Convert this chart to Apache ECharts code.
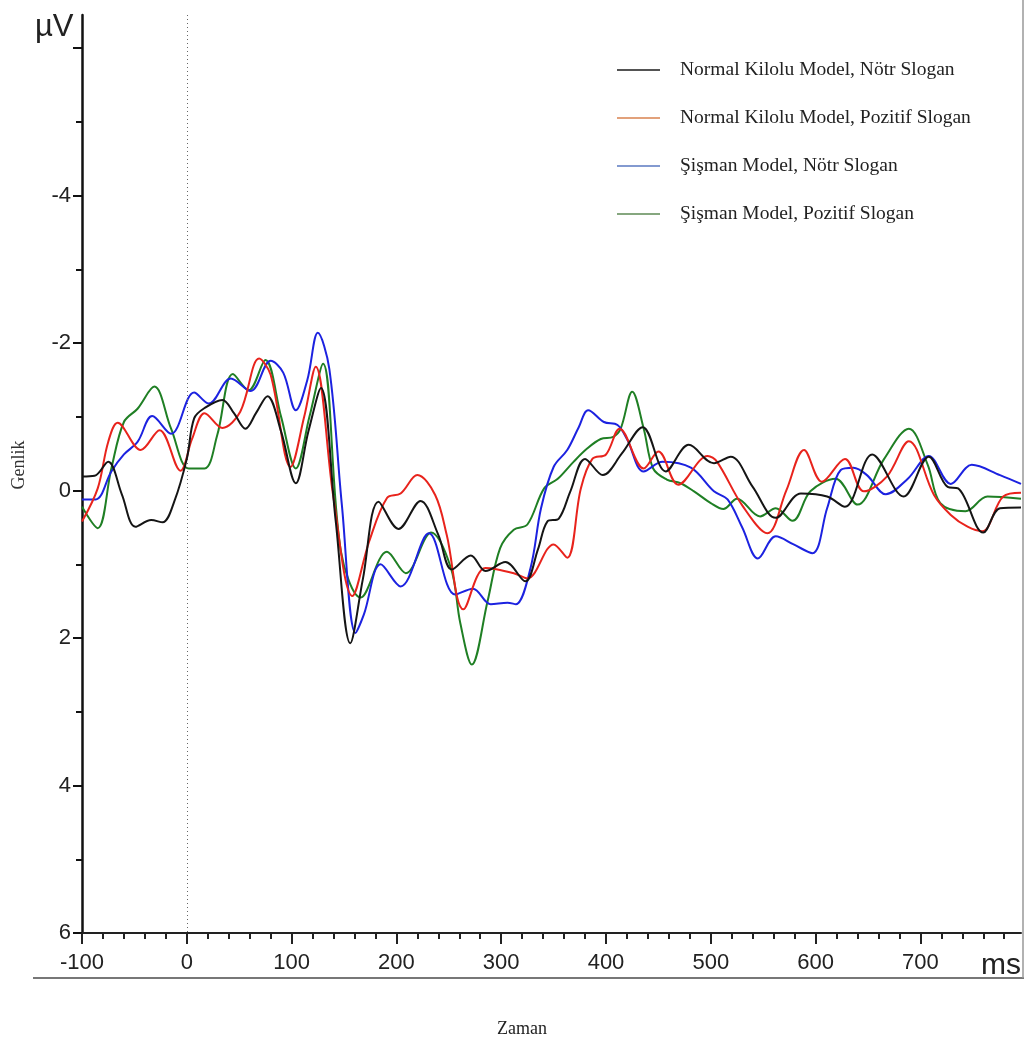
<!DOCTYPE html>
<html>
<head>
<meta charset="utf-8">
<script src="https://cdn.jsdelivr.net/npm/echarts@6/dist/echarts.min.js"></script>
<style>
  html, body { margin: 0; padding: 0; background: #fff; }
  #chart { width: 1026px; height: 1044px; }
</style>
</head>
<body>
<div id="chart"></div>
<script>
// series names (legend)
const seriesNames = [
  "Normal Kilolu Model, Nötr Slogan",
  "Normal Kilolu Model, Pozitif Slogan",
  "Şişman Model, Nötr Slogan",
  "Şişman Model, Pozitif Slogan"
];
const lineColors = ["#151515", "#e8231c", "#1c22e0", "#1f7f24"];
const legendColors = ["#1a1a1a", "#d9824f", "#5a78c0", "#5e8a55"];

// [time ms, amplitude µV]
const blackPts = [[-100,-0.19],[-88,-0.2],[-75,-0.39],[-62,0.05],[-49,0.49],[-34,0.40],[-23,0.43],[-12,0.15],[0,-0.43],[7,-0.98],[17,-1.12],[34,-1.23],[45,-1.05],[56,-0.84],[66,-1.05],[77,-1.28],[90,-0.8],[104,-0.10],[116,-0.8],[128,-1.39],[142,0.4],[156,2.07],[168,1.2],[183,0.15],[202,0.52],[223,0.14],[240,0.6],[253,1.07],[271,0.88],[285,1.09],[304,0.97],[323,1.23],[335,0.8],[344,0.42],[355,0.38],[366,0.01],[380,-0.43],[397,-0.21],[415,-0.5],[435,-0.86],[457,-0.26],[479,-0.62],[503,-0.37],[519,-0.46],[540,-0.05],[562,0.37],[586,0.04],[611,0.08],[628,0.22],[654,-0.49],[684,0.08],[708,-0.46],[726,-0.05],[736,-0.03],[760,0.57],[776,0.24],[796,0.23]];
const redPts = [[-100,0.42],[-85,-0.03],[-75,-0.66],[-66,-0.92],[-44,-0.55],[-26,-0.82],[-6,-0.27],[5,-0.7],[17,-1.05],[34,-0.85],[51,-1.07],[69,-1.79],[80,-1.57],[99,-0.32],[112,-1.0],[123,-1.68],[140,0.1],[158,1.43],[174,0.69],[191,0.1],[204,0.04],[220,-0.21],[237,0.06],[248,0.6],[264,1.61],[285,1.05],[312,1.12],[325,1.19],[350,0.73],[363,0.91],[376,-0.03],[387,-0.43],[400,-0.49],[413,-0.84],[436,-0.3],[450,-0.53],[469,-0.08],[497,-0.47],[506,-0.39],[530,0.2],[554,0.58],[572,0.0],[589,-0.55],[606,-0.12],[628,-0.43],[646,0.01],[668,-0.19],[689,-0.67],[713,0.06],[729,0.33],[745,0.49],[759,0.55],[779,0.08],[796,0.03]];
const bluePts = [[-100,0.12],[-87,0.12],[-72,-0.26],[-60,-0.49],[-47,-0.66],[-33,-1.01],[-15,-0.77],[7,-1.33],[21,-1.18],[42,-1.52],[61,-1.35],[80,-1.76],[92,-1.6],[104,-1.09],[115,-1.5],[125,-2.14],[136,-1.65],[148,0.2],[161,1.93],[169,1.68],[185,1.0],[204,1.3],[231,0.58],[256,1.41],[273,1.33],[290,1.54],[306,1.52],[314,1.54],[328,1.05],[338,0.24],[350,-0.32],[363,-0.55],[374,-0.86],[383,-1.09],[398,-0.93],[411,-0.89],[420,-0.7],[436,-0.26],[454,-0.39],[481,-0.31],[503,0.01],[516,0.12],[530,0.5],[545,0.92],[562,0.62],[579,0.73],[597,0.85],[611,0.24],[624,-0.28],[636,-0.31],[649,-0.21],[667,0.05],[688,-0.16],[708,-0.47],[729,-0.09],[749,-0.35],[776,-0.21],[796,-0.09]];
const greenPts = [[-100,0.22],[-85,0.51],[-72,-0.3],[-60,-0.93],[-47,-1.11],[-31,-1.41],[-15,-0.84],[2,-0.3],[17,-0.3],[29,-0.75],[44,-1.58],[59,-1.36],[75,-1.77],[90,-1.0],[104,-0.3],[117,-1.0],[130,-1.72],[147,0.82],[166,1.45],[191,0.83],[209,1.12],[233,0.57],[252,1.05],[261,1.8],[272,2.36],[287,1.5],[299,0.78],[312,0.53],[325,0.46],[341,-0.03],[354,-0.16],[369,-0.39],[382,-0.57],[395,-0.7],[407,-0.73],[414,-0.84],[425,-1.34],[436,-0.84],[445,-0.3],[458,-0.15],[471,-0.1],[484,0.01],[500,0.17],[512,0.25],[525,0.11],[547,0.35],[562,0.24],[578,0.41],[595,0.01],[619,-0.16],[640,0.19],[665,-0.42],[689,-0.84],[707,-0.35],[719,0.17],[743,0.28],[764,0.08],[796,0.11]];

// axis ticks
const xMajor = [-100, 0, 100, 200, 300, 400, 500, 600, 700];
const xMinor = [-80,-60,-40,-20,20,40,60,80,120,140,160,180,220,240,260,280,320,340,360,380,420,440,460,480,520,540,560,580,620,640,660,680,720,740,760,780];
const yMajor = [-6, -4, -2, 0, 2, 4, 6];
const yLabels = [-4, -2, 0, 2, 4, 6];
const yMinor = [-5, -3, -1, 1, 3, 5];

const sans = '"Liberation Sans", Arial, sans-serif';
const serif = '"Liberation Serif", "Times New Roman", serif';

let myChart = echarts.init(document.getElementById("chart"));
const allPts = [blackPts, redPts, bluePts, greenPts];
var seriesData = [];
for (let i = 0; i < allPts.length; i++) {
  seriesData.push({
    name: seriesNames[i],
    type: "line",
    data: allPts[i],
    smooth: 0.35,
    showSymbol: false,
    xAxisIndex: 0,
    yAxisIndex: 0,
    lineStyle: { color: lineColors[i], width: 2 },
    itemStyle: { color: lineColors[i] },
    z: 3 + (3 - i)
  });
}
// dotted stimulus line at 0 ms
seriesData[0].markLine = {
  silent: true,
  symbol: "none",
  label: { show: false },
  lineStyle: { color: "#666", type: [1, 3], width: 1 },
  data: [{ xAxis: 0 }]
};

const options = {
  animation: false,
  backgroundColor: "#fff",
  grid: { left: 82, right: 5, top: 15, bottom: 111 },
  legend: {
    orient: "vertical",
    left: 612,
    top: 55,
    itemWidth: 43,
    itemHeight: 1.5,
    itemGap: 28,
    icon: "rect",
    textStyle: { fontFamily: serif, fontSize: 19.5, color: "#222", padding: [0, 0, 0, 15] },
    data: seriesNames.map((n, i) => ({ name: n, itemStyle: { color: legendColors[i] } }))
  },
  xAxis: [
    {
      type: "value",
      min: -100,
      max: 796,
      position: "bottom",
      axisLine: { onZero: false, lineStyle: { color: "#222", width: 2 } },
      axisTick: { customValues: xMajor, length: 11, lineStyle: { color: "#222", width: 2 } },
      axisLabel: { customValues: xMajor, fontFamily: sans, fontSize: 22, color: "#222", margin: 19 },
      splitLine: { show: false }
    },
    {
      type: "value",
      min: -100,
      max: 796,
      position: "bottom",
      offset: 0,
      axisLine: { show: false, onZero: false },
      axisTick: { customValues: xMinor, length: 6, lineStyle: { color: "#222", width: 2 } },
      axisLabel: { show: false },
      splitLine: { show: false }
    }
  ],
  yAxis: [
    {
      type: "value",
      inverse: true,
      min: -6.45,
      max: 6,
      position: "left",
      axisLine: { onZero: false, lineStyle: { color: "#111", width: 2.5 } },
      axisTick: { customValues: yMajor, length: 9, lineStyle: { color: "#111", width: 2 } },
      axisLabel: { customValues: yLabels, fontFamily: sans, fontSize: 22, color: "#222", margin: 11 },
      splitLine: { show: false }
    },
    {
      type: "value",
      inverse: true,
      min: -6.45,
      max: 6,
      position: "left",
      offset: 0,
      axisLine: { show: false, onZero: false },
      axisTick: { customValues: yMinor, length: 6, lineStyle: { color: "#111", width: 2 } },
      axisLabel: { show: false },
      splitLine: { show: false }
    }
  ],
  graphic: [
    { type: "text", left: 35, top: 12, style: { text: "µV", font: '31px ' + sans, fill: "#222" } },
    { type: "text", z: 10, style: { text: "ms", x: 1021, y: 966, align: "right", verticalAlign: "middle", font: '30px ' + sans, fill: "#222" } },
    { type: "text", rotation: Math.PI / 2, x: 19, y: 465, style: { text: "Genlik", x: 0, y: 0, align: "center", verticalAlign: "middle", font: '18px ' + serif, fill: "#333" } },
    { type: "text", style: { text: "Zaman", x: 522, y: 1029, align: "center", verticalAlign: "middle", font: '18px ' + serif, fill: "#222" } },
    { type: "line", shape: { x1: 33, y1: 978, x2: 1024, y2: 978 }, style: { stroke: "#777", lineWidth: 2 } },
    { type: "line", shape: { x1: 1023, y1: 0, x2: 1023, y2: 978 }, style: { stroke: "#999", lineWidth: 1.5 } }
  ],
  series: seriesData
};
if (options && typeof options === "object") myChart.setOption(options);
window.addEventListener("resize", function () {
  myChart.resize();
});
</script>
</body>
</html>
